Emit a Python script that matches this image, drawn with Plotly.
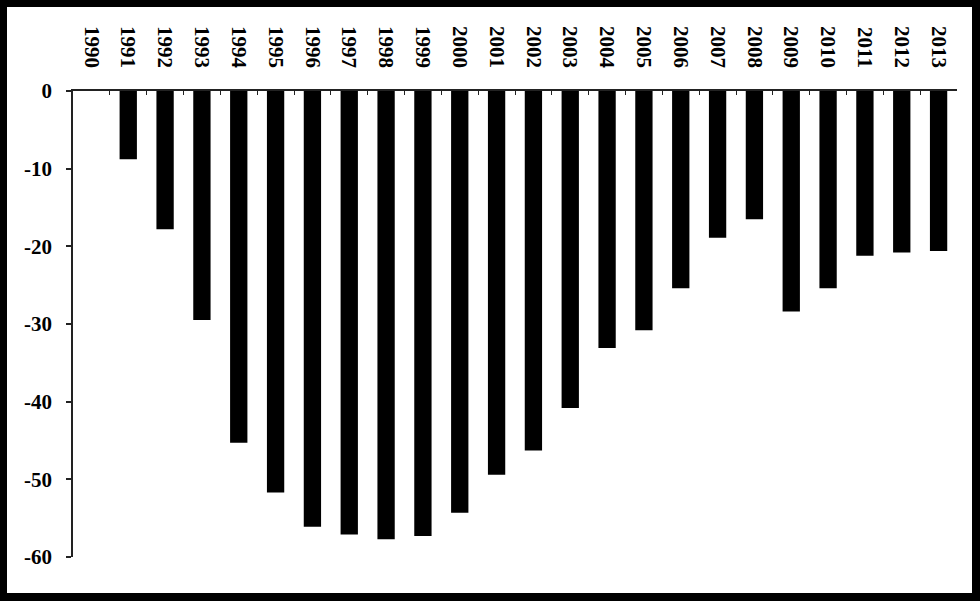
import plotly.graph_objects as go

years = [str(y) for y in range(1990, 2014)]
values = [0, -8.8, -17.8, -29.5, -45.3, -51.7, -56.1, -57.1, -57.7, -57.3,
          -54.3, -49.4, -46.3, -40.8, -33.1, -30.8, -25.4, -18.9, -16.5,
          -28.4, -25.4, -21.2, -20.8, -20.6]
y_ticks = [0, -10, -20, -30, -40, -50, -60]

W, H = 980, 601
ml, mr, mt, mb = 73, 23, 91, 44
pw, ph = W - ml - mr, H - mt - mb

def px_x(p):
    return (p - ml) / pw

def px_y(p):
    return (H - mb - p) / ph

tfont = dict(family="Liberation Serif, Times New Roman, serif", size=21, color="black", weight="bold")

fig = go.Figure(go.Bar(x=years, y=values, marker=dict(color="black", line=dict(width=0))))

fig.update_layout(
    width=W, height=H,
    margin=dict(l=ml, r=mr, t=mt, b=mb, pad=0),
    paper_bgcolor="black",
    plot_bgcolor="white",
    bargap=0.53,
    showlegend=False,
    shapes=[dict(type="rect", xref="paper", yref="paper",
                 x0=px_x(7), x1=px_x(972), y0=px_y(593), y1=px_y(7),
                 fillcolor="white", line=dict(width=0), layer="below")],
)

fig.update_xaxes(
    type="category", side="top", range=[-0.5, 23.5],
    tickangle=90, tickfont=tfont,
    showline=True, linecolor="#222", linewidth=1.5,
    ticks="inside", ticklen=4, tickwidth=1, tickcolor="#222", tickson="boundaries",
    showgrid=False, zeroline=False, ticklabelstandoff=14,
)
fig.update_yaxes(
    range=[-60, 0], tickvals=y_ticks, ticktext=[str(v) for v in y_ticks],
    tickfont=tfont,
    showline=True, linecolor="#222", linewidth=1.5,
    ticks="outside", ticklen=5, tickwidth=1.5, tickcolor="#222",
    showgrid=False, zeroline=False, ticklabelstandoff=10,
)

fig.write_html("out.html", config={"displayModeBar": False},
               post_script="document.body.style.margin='0';document.body.style.overflow='hidden';")
